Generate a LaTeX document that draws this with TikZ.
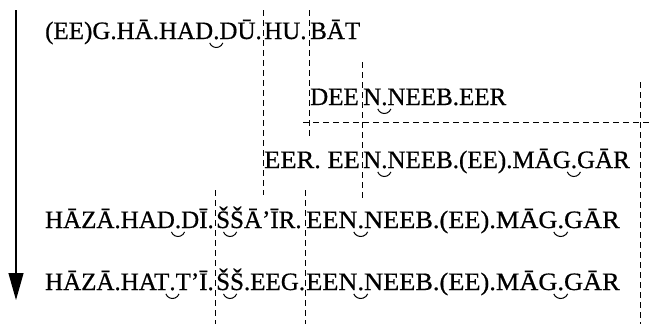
\documentclass[tikz,border=0pt]{standalone}
\usepackage{fontspec}
\setmainfont{Liberation Serif}[FakeBold=0.6]
\usetikzlibrary{arrows.meta}
\newcommand\td{\rlap{\tikz[overlay,baseline=0pt,x=1pt,y=1pt]\draw[line width=1pt] (-3.5,-3.9) arc[start angle=200,end angle=340,radius=7];}.}
\newcommand\tS{\rlap{\tikz[overlay,baseline=0pt,x=1pt,y=1pt]\draw[line width=1pt] (7.3,-3.9) arc[start angle=200,end angle=340,radius=7];}}
\begin{document}
\begin{tikzpicture}[x=1pt,y=-1pt,
  txt/.style={inner sep=0pt, font=\fontsize{25}{30}\selectfont},
  guide/.style={line width=1pt, dash pattern=on 6pt off 4pt},
  timeline/.style={line width=1.2pt, -{Triangle[width=15pt,length=27pt]}}]
\useasboundingbox[fill=white] (0,0) rectangle (652,324);
% time arrow
\coordinate (atop) at (16,10);
\coordinate (abot) at (16,300);
\draw[timeline] (atop) -- (abot);
% dashed guides
\draw[guide] (263,10) -- (263,195);
\draw[guide] (309,10) -- (309,137);
\draw[guide] (362,62) -- (362,198);
\draw[guide] (303,122) -- (652,122);
\draw[guide] (640,82) -- (640,324);
\draw[guide] (215,190) -- (215,324);
\draw[guide] (305,190) -- (305,324);
% row 1
\node[txt, anchor=base east] (r1a) at (262,39) {(EE)G.HĀ.HAD\td DŪ.};
\node[txt, anchor=base west] (r1b) at (264,39) {HU.};
\node[txt, anchor=base west] (r1c) at (310,39) {BĀT};
% row 2
\node[txt, anchor=base west] (r2a) at (310,105) {DEE};
\node[txt, anchor=base west] (r2b) at (363,105) {N\td NEEB.EER};
% row 3
\node[txt, anchor=base west] (r3a) at (264,168) {\scalebox{1.06}[1]{EER. EE}};
\node[txt, anchor=base west] (r3c) at (363,168) {N\td NEEB.(EE).MĀG\td GĀR};
% row 4
\node[txt, anchor=base east] (r4a) at (214,228) {HĀZĀ.HAD\td DĪ.};
\node[txt, anchor=base west] (r4b) at (216,228) {\tS ŠŠĀ’ĪR.};
\node[txt, anchor=base west] (r4c) at (306,228) {\scalebox{1.055}[1]{EEN\td NEEB.(EE).MĀG\td GĀR}};
% row 5
\node[txt, anchor=base east] (r5a) at (214,290) {HĀZĀ.HAT\td T’Ī.};
\node[txt, anchor=base west] (r5b) at (216,290) {\tS ŠŠ.EEG.};
\node[txt, anchor=base west] (r5c) at (306,290) {\scalebox{1.055}[1]{EEN\td NEEB.(EE).MĀG\td GĀR}};
\end{tikzpicture}
\end{document}
